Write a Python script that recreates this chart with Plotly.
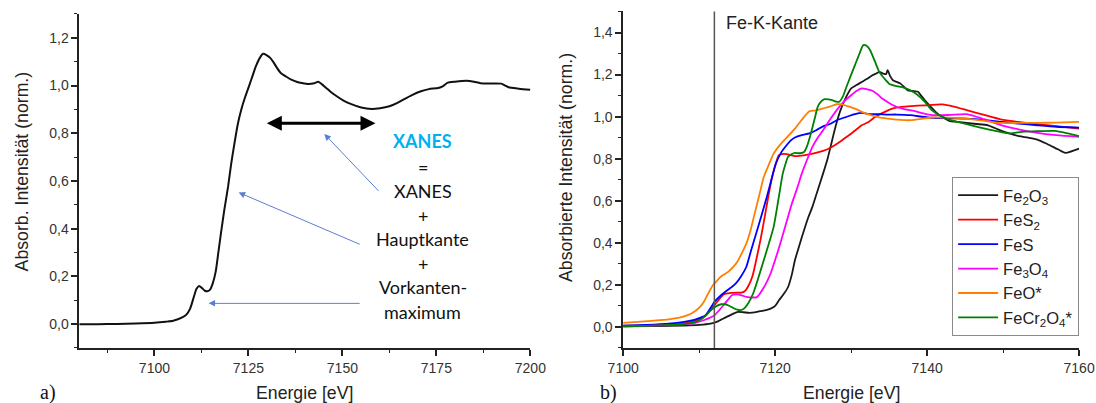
import plotly.graph_objects as go

# ---------------- panel a): normalised Fe K-edge spectrum ----------------
energy_a = [7080, 7085, 7090, 7095, 7100, 7103, 7105, 7107.4, 7108.5, 7109.5,
            7110.5, 7111.2, 7111.9, 7112.6, 7113.4, 7114.1, 7114.8, 7115.5, 7116.3, 7117.0,
            7117.7, 7118.6, 7119.6, 7120.4, 7121.3, 7122.2, 7123.1, 7124.2, 7125.3, 7126.2,
            7127.0, 7128.0, 7128.9, 7129.8, 7130.8, 7131.7, 7132.6, 7133.6, 7135.0, 7136.4,
            7138.0, 7139.2, 7141.0, 7142.5, 7143.6, 7144.6, 7145.7, 7147.0, 7148.5, 7150.3,
            7152.2, 7155.0, 7157.8, 7160.0, 7162.5, 7164.5, 7166.2, 7168.5, 7170.9, 7173.0,
            7175.5, 7176.8, 7177.9, 7180.0, 7183.0, 7185.0, 7186.7, 7190.0, 7192.3, 7193.3,
            7194.2, 7197.0, 7200.0]
absorb_a = [0.000, 0.000, 0.001, 0.003, 0.006, 0.010, 0.014, 0.028, 0.040, 0.065,
            0.115, 0.148, 0.160, 0.152, 0.140, 0.138, 0.145, 0.170, 0.220, 0.300,
            0.381, 0.480, 0.577, 0.670, 0.759, 0.840, 0.899, 0.955, 1.004, 1.045,
            1.081, 1.115, 1.133, 1.128, 1.116, 1.097, 1.074, 1.053, 1.038, 1.025,
            1.015, 1.011, 1.007, 1.010, 1.016, 1.005, 0.990, 0.972, 0.955, 0.937,
            0.923, 0.908, 0.902, 0.905, 0.913, 0.926, 0.941, 0.960, 0.976, 0.985,
            0.990, 0.998, 1.011, 1.016, 1.020, 1.016, 1.010, 1.009, 1.008, 1.000,
            0.993, 0.987, 0.982]

# ---------------- panel b): reference compounds ----------------
energy_fe2o3 = [7100, 7104, 7108, 7110, 7111.5, 7112.3, 7112.9, 7113.6, 7114.3, 7115.0,
                7115.8, 7116.6, 7117.3, 7118.0, 7118.8, 7119.4, 7120.0, 7120.5, 7121.1, 7121.7,
                7122.2, 7122.6, 7123.2, 7123.8, 7124.4, 7124.9, 7125.6, 7126.3, 7126.9, 7127.5,
                7128.0, 7128.6, 7129.3, 7130.0, 7130.7, 7131.4, 7132.1, 7132.8, 7133.3, 7133.7,
                7134.2, 7134.6, 7134.8, 7135.1, 7135.5, 7136.0, 7136.5, 7137.0, 7137.4, 7138.1,
                7138.8, 7139.2, 7139.7, 7140.4, 7141.1, 7142.0, 7142.9, 7144.0, 7145.2, 7146.5,
                7148.0, 7149.0, 7149.8, 7151.0, 7152.1, 7153.3, 7154.5, 7155.8, 7157.2, 7158.2,
                7160]
absorb_fe2o3 = [0.003, 0.004, 0.007, 0.010, 0.016, 0.024, 0.035, 0.048, 0.060, 0.071,
                0.070, 0.067, 0.069, 0.075, 0.080, 0.087, 0.100, 0.127, 0.155, 0.190,
                0.250, 0.317, 0.390, 0.460, 0.525, 0.571, 0.650, 0.729, 0.800, 0.888,
                0.960, 1.031, 1.090, 1.134, 1.150, 1.165, 1.180, 1.197, 1.205, 1.213,
                1.205, 1.202, 1.221, 1.195, 1.173, 1.165, 1.157, 1.140, 1.126, 1.122,
                1.118, 1.100, 1.078, 1.050, 1.023, 0.998, 0.980, 0.975, 0.970, 0.965,
                0.959, 0.945, 0.932, 0.918, 0.907, 0.900, 0.891, 0.870, 0.845, 0.828,
                0.848]

energy_fes2 = [7100, 7104, 7107, 7108.3, 7109.5, 7110.6, 7111.3, 7112.0, 7112.6, 7113.2,
               7113.8, 7114.3, 7115.0, 7115.5, 7116.0, 7116.4, 7117.0, 7117.5, 7118.1, 7118.7,
               7119.2, 7119.6, 7120.1, 7120.5, 7121.1, 7121.7, 7122.6, 7123.5, 7124.5, 7125.6,
               7126.8, 7128.0, 7129.1, 7130.2, 7131.4, 7132.3, 7133.2, 7134.3, 7135.5, 7136.6,
               7137.8, 7139.7, 7142.0, 7143.5, 7145.2, 7147.5, 7149.8, 7152.0, 7154.5, 7157,
               7160]
absorb_fes2 = [0.006, 0.008, 0.013, 0.019, 0.030, 0.048, 0.072, 0.103, 0.130, 0.155,
               0.160, 0.162, 0.163, 0.163, 0.170, 0.190, 0.240, 0.317, 0.420, 0.539,
               0.640, 0.713, 0.780, 0.817, 0.823, 0.821, 0.812, 0.815, 0.821, 0.830,
               0.844, 0.868, 0.896, 0.925, 0.959, 0.975, 0.999, 1.020, 1.039, 1.046,
               1.050, 1.054, 1.058, 1.048, 1.031, 1.008, 0.986, 0.975, 0.964, 0.955,
               0.943]

energy_fes = [7100, 7103, 7106, 7108, 7109.2, 7110.0, 7110.8, 7111.4, 7112.0, 7112.7,
              7113.4, 7114.1, 7114.8, 7115.5, 7116.2, 7116.8, 7117.5, 7118.2, 7118.9, 7119.5,
              7120.1, 7120.8, 7121.5, 7122.0, 7122.6, 7123.5, 7124.5, 7125.4, 7126.3, 7127.2,
              7128.1, 7129.3, 7130.5, 7131.4, 7132.5, 7133.7, 7134.8, 7136.0, 7137.8, 7140.1,
              7142.5, 7145.2, 7147.5, 7149.8, 7152.0, 7154.5, 7157.0, 7160]
absorb_fes = [0.006, 0.010, 0.016, 0.024, 0.032, 0.042, 0.055, 0.085, 0.119, 0.145,
              0.166, 0.185, 0.206, 0.240, 0.285, 0.360, 0.444, 0.530, 0.618, 0.700,
              0.777, 0.830, 0.864, 0.885, 0.901, 0.912, 0.920, 0.935, 0.954, 0.965,
              0.983, 0.998, 1.012, 1.018, 1.012, 1.012, 1.010, 1.010, 1.007, 0.996,
              0.993, 0.991, 0.985, 0.975, 0.967, 0.959, 0.952, 0.948]

energy_fe3o4 = [7100, 7104, 7108.3, 7109.5, 7110.6, 7111.3, 7112.0, 7112.6, 7113.2, 7113.8,
                7114.3, 7115.0, 7115.6, 7116.2, 7117.1, 7117.6, 7118.0, 7118.7, 7119.4, 7120.1,
                7120.8, 7121.5, 7122.2, 7122.9, 7123.5, 7124.2, 7124.9, 7125.6, 7126.3, 7127.2,
                7128.1, 7129.0, 7130.0, 7130.7, 7131.4, 7132.1, 7132.8, 7133.5, 7134.1, 7135.0,
                7136.0, 7137.1, 7138.3, 7139.5, 7140.6, 7142.9, 7145.2, 7147.5, 7149.8, 7152.0,
                7154.5, 7157.0, 7160]
absorb_fe3o4 = [0.003, 0.006, 0.013, 0.020, 0.032, 0.042, 0.055, 0.078, 0.103, 0.130,
                0.151, 0.155, 0.150, 0.143, 0.140, 0.142, 0.159, 0.200, 0.254, 0.330,
                0.412, 0.500, 0.587, 0.660, 0.729, 0.795, 0.856, 0.900, 0.935, 0.985,
                1.031, 1.070, 1.102, 1.122, 1.134, 1.130, 1.123, 1.105, 1.086, 1.065,
                1.046, 1.035, 1.027, 1.015, 1.007, 1.008, 1.012, 0.988, 0.959, 0.940,
                0.923, 0.912, 0.904]

energy_feo = [7100, 7103.7, 7106, 7107.4, 7108.5, 7109.5, 7110.1, 7110.6, 7111.2, 7111.8,
              7112.4, 7112.9, 7113.8, 7114.4, 7115.0, 7115.6, 7116.2, 7116.8, 7117.3, 7117.9,
              7118.5, 7119.2, 7119.8, 7120.5, 7121.2, 7122.6, 7123.5, 7124.5, 7125.4, 7126.3,
              7127.2, 7128.1, 7128.8, 7129.5, 7130.5, 7131.4, 7132.5, 7133.7, 7135.0, 7136.0,
              7137.8, 7140.6, 7142.9, 7145.2, 7147.5, 7149.8, 7152, 7154.5, 7157, 7160]
absorb_feo = [0.019, 0.029, 0.036, 0.044, 0.056, 0.076, 0.095, 0.119, 0.160, 0.198,
              0.222, 0.241, 0.262, 0.282, 0.309, 0.350, 0.396, 0.465, 0.539, 0.625,
              0.713, 0.775, 0.824, 0.860, 0.888, 0.943, 0.985, 1.026, 1.030, 1.039,
              1.048, 1.059, 1.058, 1.050, 1.038, 1.023, 1.008, 0.996, 0.990, 0.986,
              0.983, 0.996, 0.995, 0.991, 0.980, 0.970, 0.970, 0.970, 0.972, 0.975]

energy_fecr2o4 = [7100, 7104, 7108, 7109.3, 7110.2, 7110.9, 7111.5, 7112.2, 7112.9, 7113.4,
                  7113.8, 7114.4, 7115.0, 7115.5, 7115.9, 7116.5, 7117.1, 7117.8, 7118.5, 7119.2,
                  7119.8, 7120.4, 7121.0, 7121.4, 7121.7, 7122.2, 7122.6, 7123.2, 7123.8, 7124.2,
                  7124.7, 7125.2, 7125.6, 7126.0, 7126.5, 7127.0, 7127.5, 7128.0, 7128.4, 7128.9,
                  7129.3, 7129.9, 7130.5, 7131.1, 7131.6, 7132.1, 7132.5, 7133.1, 7133.7, 7134.4,
                  7135.1, 7136.0, 7136.9, 7137.8, 7138.8, 7139.7, 7140.6, 7141.7, 7142.9, 7145.2,
                  7148.0, 7150.8, 7152.5, 7154.5, 7156.8, 7158.5, 7160]
absorb_fecr2o4 = [0.003, 0.006, 0.013, 0.022, 0.035, 0.055, 0.079, 0.098, 0.108, 0.108,
                  0.103, 0.092, 0.082, 0.080, 0.087, 0.115, 0.159, 0.235, 0.317, 0.400,
                  0.476, 0.600, 0.729, 0.780, 0.809, 0.822, 0.828, 0.826, 0.832, 0.860,
                  0.920, 0.990, 1.046, 1.070, 1.083, 1.082, 1.078, 1.072, 1.070, 1.095,
                  1.134, 1.190, 1.245, 1.300, 1.340, 1.335, 1.316, 1.265, 1.213, 1.180,
                  1.154, 1.145, 1.138, 1.125, 1.102, 1.070, 1.031, 1.005, 0.986, 0.964,
                  0.939, 0.920, 0.928, 0.931, 0.932, 0.920, 0.907]

series_b = [
    ("Fe<sub>2</sub>O<sub>3</sub>", energy_fe2o3, absorb_fe2o3, "#1a1a1a"),
    ("FeS<sub>2</sub>", energy_fes2, absorb_fes2, "#ff0000"),
    ("FeS", energy_fes, absorb_fes, "#0000ff"),
    ("Fe<sub>3</sub>O<sub>4</sub>", energy_fe3o4, absorb_fe3o4, "#ff00ff"),
    ("FeO*", energy_feo, absorb_feo, "#ff8000"),
    ("FeCr<sub>2</sub>O<sub>4</sub>*", energy_fecr2o4, absorb_fecr2o4, "#008000"),
]

fe_k_edge = 7112

SANS = "Liberation Sans, Arial, sans-serif"
AXIS_FONT = dict(family=SANS, size=14, color="#333333")
TITLE_FONT = dict(family=SANS, size=17.7, color="#222222")
NOTE_FONT = "Lato, Carlito, Calibri, sans-serif"

fig = go.Figure()

fig.add_trace(go.Scatter(x=energy_a, y=absorb_a, mode="lines",
                         line=dict(color="#111111", width=2, shape="spline", smoothing=0.6),
                         xaxis="x", yaxis="y", showlegend=False))

for name, ex, ab, col in series_b:
    fig.add_trace(go.Scatter(x=ex, y=ab, mode="lines", name=name,
                             line=dict(color=col, width=1.8, shape="spline", smoothing=0.6),
                             xaxis="x2", yaxis="y2"))

axis_common = dict(showline=True, linecolor="#222222", linewidth=1.5,
                   ticks="outside", ticklen=6, tickwidth=1.5, tickcolor="#222222",
                   showgrid=False, zeroline=False, tickfont=AXIS_FONT, mirror=False,
                   automargin=False)
minor_common = dict(ticks="outside", ticklen=3.5, tickwidth=1.2, tickcolor="#222222")

fig.update_layout(
    width=1096, height=403,
    margin=dict(l=0, r=0, t=0, b=0, pad=0, autoexpand=False),
    paper_bgcolor="white", plot_bgcolor="white",
    separators=",.",
    xaxis=dict(domain=[0.0723, 0.4839], range=[7080, 7200], dtick=25, tick0=7100,
               minor=dict(dtick=12.5, **minor_common), anchor="y", **axis_common),
    yaxis=dict(domain=[0.1365, 0.9653], range=[-0.1, 1.3], dtick=0.2, tick0=0,
               tickformat=".1f", minor=dict(dtick=0.1, **minor_common),
               anchor="x", **axis_common),
    xaxis2=dict(domain=[0.5686, 0.9846], range=[7100, 7160], dtick=20, tick0=7100,
                minor=dict(dtick=10, **minor_common), anchor="y2", **axis_common),
    yaxis2=dict(domain=[0.1365, 0.9715], range=[-0.1, 1.5], dtick=0.2, tick0=0,
                tickformat=".1f", minor=dict(dtick=0.1, **minor_common),
                anchor="x2", **axis_common),
    legend=dict(x=0.9846, xanchor="right", y=0.1663, yanchor="bottom",
                bgcolor="white", bordercolor="#8a8a8a", borderwidth=1,
                font=dict(family=SANS, size=16.5, color="#222222"),
                itemwidth=40, tracegroupgap=0),
)

# Fe K-edge marker in panel b)
fig.add_shape(type="line", xref="x2", yref="y2 domain", x0=fe_k_edge, x1=fe_k_edge, y0=0, y1=1,
              line=dict(color="#555555", width=1.5))

serif = dict(family="Liberation Serif, Times New Roman, serif", size=20, color="#111111")
annotations = [
    dict(text="Energie [eV]", x=0.2781, y=0.025, xref="paper", yref="paper",
         xanchor="center", yanchor="middle", showarrow=False, font=TITLE_FONT),
    dict(text="Energie [eV]", x=0.7766, y=0.025, xref="paper", yref="paper",
         xanchor="center", yanchor="middle", showarrow=False, font=TITLE_FONT),
    dict(text="Absorb. Intensität (norm.)", x=0.0198, y=0.574, xref="paper", yref="paper",
         xanchor="center", yanchor="middle", textangle=-90, showarrow=False, font=TITLE_FONT),
    dict(text="Absorbierte Intensität (norm.)", x=0.5158, y=0.584, xref="paper", yref="paper",
         xanchor="center", yanchor="middle", textangle=-90, showarrow=False, font=TITLE_FONT),
    dict(text="a)", x=0.0346, y=0.027, xref="paper", yref="paper", xanchor="left",
         yanchor="middle", showarrow=False, font=serif),
    dict(text="b)", x=0.5455, y=0.027, xref="paper", yref="paper", xanchor="left",
         yanchor="middle", showarrow=False, font=serif),
    dict(text="Fe-K-Kante", x=7113.3, y=1.446, xref="x2", yref="y2", xanchor="left",
         yanchor="middle", showarrow=False, font=dict(family=SANS, size=18, color="#222222")),
]

# explanatory text block in panel a)
note_lines = [("<b>XANES</b>", 0.766, "#00b0f0"), ("=", 0.657, "#111111"),
              ("XANES", 0.559, "#111111"), ("+", 0.454, "#111111"),
              ("Hauptkante", 0.356, "#111111"), ("+", 0.252, "#111111"),
              ("Vorkanten-", 0.154, "#111111"), ("maximum", 0.052, "#111111")]
for txt, yv, col in note_lines:
    annotations.append(dict(text=txt, x=7171.4, y=yv, xref="x", yref="y",
                            xanchor="center", yanchor="middle", showarrow=False,
                            font=dict(family=NOTE_FONT, size=18, color=col)))

# double-headed arrow spanning the XANES region
annotations.append(dict(text="", x=7158.8, y=0.842, ax=7129.5, ay=0.842,
                        xref="x", yref="y", axref="x", ayref="y",
                        showarrow=True, arrowhead=2, startarrowhead=2, arrowside="end+start",
                        arrowsize=1, startarrowsize=1, arrowwidth=3, arrowcolor="#000000",
                        standoff=0, startstandoff=0))

# thin pointer arrows from the text block
pointer_arrows = [((7160.0, 0.552), (7145.2, 0.797)),
                  ((7155.0, 0.332), (7122.4, 0.552)),
                  ((7155.0, 0.087), (7114.4, 0.087))]
for (tx, ty), (hx, hy) in pointer_arrows:
    annotations.append(dict(text="", x=hx, y=hy, ax=tx, ay=ty,
                            xref="x", yref="y", axref="x", ayref="y",
                            showarrow=True, arrowhead=2, arrowsize=1.3, arrowwidth=1,
                            arrowcolor="#5b7fd0", standoff=0))

fig.update_layout(annotations=annotations)

fig.write_html("out.html")
